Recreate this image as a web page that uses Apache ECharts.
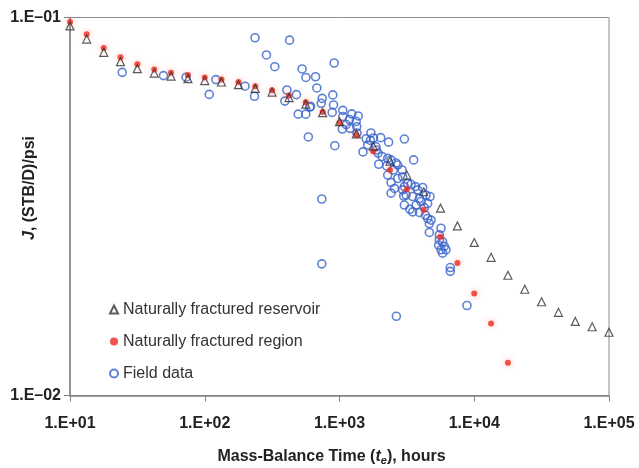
<html>
<head>
<meta charset="utf-8">
<script src="https://cdn.jsdelivr.net/npm/echarts@6/dist/echarts.min.js"></script>
<style>
  html, body { margin: 0; padding: 0; background: #fff; }
  #main { width: 639px; height: 468px; }
</style>
</head>
<body>
<div id="main"></div>
<script>
// mass-balance time, hours (model curves share these times)
var modelTime = [10, 13.3, 17.8, 23.7, 31.6, 42.2, 56.2, 75.0, 100, 133, 178, 237, 316, 422, 562, 750,
  1000, 1334, 1778, 2371, 3162, 4217, 5623, 7499, 10000, 13335, 17783, 23714, 31623, 42170, 56234, 74989, 100000];

// J, (STB/D)/psi
var reservoirJ = [0.0950, 0.0877, 0.0809, 0.0764, 0.0732, 0.0713, 0.0700, 0.0689, 0.0681, 0.0675, 0.0664,
  0.0649, 0.0635, 0.0614, 0.0590, 0.0560, 0.0530, 0.0492, 0.0457, 0.0417, 0.0383, 0.0346, 0.0313, 0.0281,
  0.0254, 0.0232, 0.0208, 0.0191, 0.0177, 0.0166, 0.0157, 0.0152, 0.0147];

var regionJ = [0.0973, 0.0903, 0.0830, 0.0785, 0.0752, 0.0729, 0.0714, 0.0704, 0.0694, 0.0685, 0.0675,
  0.0658, 0.0642, 0.0622, 0.0597, 0.0562, 0.0527, 0.0489, 0.0443, 0.0395, 0.0351, 0.0310, 0.0263, 0.0224,
  0.0186, 0.0155, 0.0122];

var fieldTime = [24.4, 49.4, 72.7, 121, 108, 199, 234, 236, 287, 331, 426, 407, 393, 479, 528, 563, 494, 562,
  602, 587, 664, 679, 739, 913, 744, 732, 892, 903, 883, 1058, 923, 1233, 1378, 1058, 1186, 1330, 1121, 1049,
  1343, 1200, 1348, 1711, 2022, 1577, 1697, 1786, 2314, 3030, 1621, 1864, 1494, 1935, 2072, 2279, 1955, 3551,
  2703, 2512, 2279, 2913, 2943, 2703, 2415, 2555, 2415, 2943, 2994, 3397, 3656, 3802, 4140, 4387, 3491, 3914,
  3030, 3700, 3329, 4262, 4510, 3491, 3914, 3030, 3205, 3120, 4697, 4029, 4335, 4510, 4778, 4642, 4642, 5666,
  5505, 5505, 5823, 5440, 5995, 6171, 5666, 5823, 6640, 6640, 8831, 2643, 739, 610, 2415, 2241, 2630, 1870];

var fieldJ = [0.0716, 0.0702, 0.0695, 0.0685, 0.0626, 0.0658, 0.0619, 0.0884, 0.0796, 0.0741, 0.0871, 0.0643,
  0.0601, 0.0625, 0.0731, 0.0694, 0.0555, 0.0555, 0.0579, 0.0483, 0.0697, 0.0651, 0.0331, 0.0758, 0.0611,
  0.0593, 0.0624, 0.0587, 0.0561, 0.0568, 0.0458, 0.0556, 0.0549, 0.0547, 0.0537, 0.0531, 0.0521, 0.0507,
  0.0514, 0.0509, 0.0495, 0.0495, 0.0481, 0.0478, 0.0473, 0.0480, 0.0468, 0.0477, 0.0460, 0.0455, 0.0441,
  0.0438, 0.0429, 0.0424, 0.0409, 0.0420, 0.0407, 0.0395, 0.0383, 0.0395, 0.0379, 0.0375, 0.0366, 0.0353,
  0.0343, 0.0350, 0.0337, 0.0362, 0.0357, 0.0350, 0.0355, 0.0339, 0.0336, 0.0332, 0.0319, 0.0319, 0.0311,
  0.0314, 0.0322, 0.0306, 0.0305, 0.0357, 0.0364, 0.0339, 0.0336, 0.0326, 0.0300, 0.0294, 0.0291, 0.0285,
  0.0270, 0.0277, 0.0266, 0.0258, 0.0255, 0.0250, 0.0248, 0.0243, 0.0243, 0.0238, 0.0218, 0.0213, 0.0173,
  0.0162, 0.0223, 0.0582, 0.0420, 0.0405, 0.0412, 0.0446];

var NAMES = ['Naturally fractured reservoir', 'Naturally fractured region', 'Field data'];

function pairs(xs, ys) {
  var out = [];
  for (var i = 0; i < ys.length; i++) {
    out.push([xs[i], ys[i]]);
  }
  return out;
}

function sciLabel(v) {
  var e = Math.round(Math.log10(v));
  var a = Math.abs(e);
  return '1.E' + (e < 0 ? '\u2013' : '+') + (a < 10 ? '0' : '') + a;
}

var FONT = 'Liberation Sans, Arial, sans-serif';
var AXIS_COLOR = '#808080';

var chart = echarts.init(document.getElementById('main'), null, { renderer: 'canvas' });

chart.setOption({
  backgroundColor: '#fff',
  animation: false,
  textStyle: { fontFamily: FONT },
  grid: {
    left: 70, right: 30, top: 17.5, bottom: 72.5,
    containLabel: false,
    outerBoundsMode: 'none',
    show: true, borderColor: '#8c8c8c', borderWidth: 1, backgroundColor: '#fff'
  },
  legend: {
    orient: 'vertical',
    left: 104,
    top: 296,
    itemWidth: 8,
    itemHeight: 8,
    itemGap: 15,
    data: NAMES,
    textStyle: { fontFamily: FONT, fontSize: 16, color: '#333', lineHeight: 17 }
  },
  // y axis title, rotated
  graphic: [{
    type: 'text',
    x: 30,
    y: 188,
    rotation: Math.PI / 2,
    style: {
      text: '{i|J}, (STB/D)/psi',
      fill: '#222',
      fontFamily: FONT,
      fontSize: 16,
      fontWeight: 'bold',
      align: 'center',
      verticalAlign: 'middle',
      rich: {
        i: { fontFamily: FONT, fontSize: 16, fontWeight: 'bold', fontStyle: 'italic', fill: '#222' }
      }
    }
  }],
  xAxis: {
    type: 'log',
    logBase: 10,
    min: 10,
    max: 100000,
    name: 'Mass-Balance Time ({i|t}{s|e}), hours',
    nameLocation: 'middle',
    nameGap: 52,
    nameTextStyle: {
      fontFamily: FONT, fontSize: 16, fontWeight: 'bold', color: '#222',
      padding: [0, 16, 0, 0],
      rich: {
        i: { fontFamily: FONT, fontSize: 16, fontWeight: 'bold', fontStyle: 'italic', color: '#222' },
        s: { fontFamily: FONT, fontSize: 11, fontWeight: 'bold', fontStyle: 'italic', color: '#222', padding: [8, 0, 0, 0] }
      }
    },
    axisLine: { lineStyle: { color: AXIS_COLOR, width: 1.5 } },
    axisTick: { show: true, length: 6, lineStyle: { color: AXIS_COLOR } },
    minorTick: { show: false },
    splitLine: { show: false },
    axisLabel: {
      margin: 20, fontSize: 16, fontWeight: 'bold', color: '#222', fontFamily: FONT,
      formatter: sciLabel
    }
  },
  yAxis: {
    type: 'log',
    logBase: 10,
    min: 0.01,
    max: 0.1,
    axisLine: { show: true, lineStyle: { color: AXIS_COLOR, width: 1.5 } },
    axisTick: { show: true, length: 6, lineStyle: { color: AXIS_COLOR } },
    splitLine: { show: false },
    axisLabel: {
      margin: 9, fontSize: 16, fontWeight: 'bold', color: '#222', fontFamily: FONT,
      formatter: sciLabel
    }
  },
  series: [
    {
      name: NAMES[2],
      type: 'scatter',
      symbol: 'circle',
      symbolSize: 8,
      itemStyle: { color: 'rgba(255,255,255,0)', borderColor: '#3563cc', borderWidth: 1.6 },
      data: pairs(fieldTime, fieldJ)
    },
    {
      name: NAMES[1],
      type: 'scatter',
      symbol: 'circle',
      symbolSize: 6,
      itemStyle: { color: '#ee2b1f', shadowBlur: 6, shadowColor: 'rgba(255,100,80,0.6)' },
      data: pairs(modelTime, regionJ)
    },
    {
      name: NAMES[0],
      type: 'scatter',
      symbol: 'triangle',
      symbolSize: 8,
      itemStyle: { color: 'rgba(255,255,255,0)', borderColor: '#333', borderWidth: 1.2 },
      data: pairs(modelTime, reservoirJ)
    }
  ]
});
</script>
</body>
</html>
